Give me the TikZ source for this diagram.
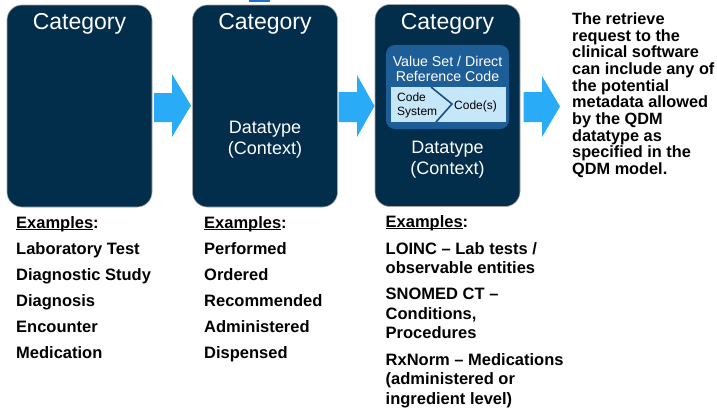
\documentclass[tikz,border=0pt]{standalone}
\usepackage{fontspec}
\setmainfont{Liberation Sans}
\usetikzlibrary{calc}
\definecolor{navy}{HTML}{022D4B}
\definecolor{arrowc}{HTML}{2AABF8}
\definecolor{innerc}{HTML}{1E5E98}
\definecolor{lightc}{HTML}{C6E6FA}
\definecolor{chevc}{HTML}{1B4F82}
\definecolor{markc}{HTML}{1F6FD2}
\newcommand\exline{\setbox0=\hbox{Examples}\rlap{\rule[-2.4pt]{\wd0}{1.3pt}}\box0:}
\tikzset{
  catbox/.style={rectangle, rounded corners=15pt, fill=navy, draw=black!35, line width=0.6pt,
    minimum width=145pt, minimum height=202pt, inner sep=0pt},
  cattext/.style={text=white, font=\fontsize{23}{26}\selectfont, inner sep=0pt, anchor=base},
  dttext/.style={text=white, font=\fontsize{18}{20}\selectfont, inner sep=0pt, anchor=base},
  vstext/.style={text=white, font=\fontsize{14.2}{16}\selectfont, inner sep=0pt, anchor=base},
  cstext/.style={text=black, font=\fontsize{12}{13}\selectfont, inner sep=0pt, anchor=base west},
  extext/.style={text=black, font=\bfseries\fontsize{16.5}{18}\selectfont, inner sep=0pt, anchor=base west},
  rtext/.style={text=black, font=\bfseries\fontsize{16.3}{17}\selectfont, inner sep=0pt, anchor=base west},
  arrowshape/.style={fill=arrowc},
}
\begin{document}
\begin{tikzpicture}[x=1pt,y=-1pt]
\useasboundingbox[fill=white] (0,0) rectangle (717,410);
% small mark at top
\fill[markc] (249,0) rectangle (270,1.6);
% boxes
\node[catbox] (b1) at (79.5,106) {};
\node[catbox] (b2) at (265,106) {};
\node[catbox] (b3) at (447.5,105.5) {};
% category titles
\node[cattext] (c1) at (79.5,29.5) {Category};
\node[cattext] (c2) at (265,29.5) {Category};
\node[cattext] (c3) at (447.5,29) {Category};
% datatype
\node[dttext] (d2) at (265,133.5) {Datatype};
\node[dttext] (x2) at (265,154.5) {(Context)};
\node[dttext] (d3) at (447.5,153.5) {Datatype};
\node[dttext] (x3) at (447.5,174) {(Context)};
% inner value set box
\fill[innerc, rounded corners=9pt] (386,45) rectangle (509,129);
\node[vstext] (vs1) at (447.5,66) {Value Set / Direct};
\node[vstext] (vs2) at (447.5,81) {Reference Code};
\fill[lightc] (390.5,87) rectangle (505.5,122);
\coordinate (chtop) at (431,87);
\coordinate (chtip) at (452,104);
\coordinate (chbot) at (436,122);
\draw[chevc, line width=1.6pt, line join=miter] (chtop) -- (chtip) -- (chbot);
\node[cstext] (cs1) at (397,101.5) {Code};
\node[cstext] (cs2) at (397,115) {System};
\node[cstext] (cds) at (454,109) {Code(s)};
% block arrows
\fill[arrowshape] (154,93) -- (172,93) -- (172,74) -- (191,105.5) -- (172,137) -- (172,122) -- (154,122) -- cycle;
\fill[arrowshape] (338.5,92) -- (357,92) -- (357,75) -- (374.5,106) -- (357,137) -- (357,122) -- (338.5,122) -- cycle;
\fill[arrowshape] (523.5,92) -- (542,92) -- (542,76) -- (560,106.5) -- (542,137) -- (542,122) -- (523.5,122) -- cycle;
% column 1
\node[extext] (e1) at (16,228) {\exline};
\foreach \t [count=\i] in {Laboratory Test, Diagnostic Study, Diagnosis, Encounter, Medication}
  \node[extext] (e1\i) at (16,{254+26*(\i-1)}) {\t};
% column 2
\node[extext] (e2) at (204,228) {\exline};
\foreach \t [count=\i] in {Performed, Ordered, Recommended, Administered, Dispensed}
  \node[extext] (e2\i) at (204,{254+26*(\i-1)}) {\t};
% column 3
\node[extext] (e3) at (385.5,227) {\exline};
\node[extext] (e31) at (385.5,254) {LOINC – Lab tests /};
\node[extext] (e32) at (385.5,273.5) {observable entities};
\node[extext] (e33) at (385.5,299.5) {SNOMED CT –};
\node[extext] (e34) at (385.5,319) {Conditions,};
\node[extext] (e35) at (385.5,338.5) {Procedures};
\node[extext] (e36) at (385.5,365) {RxNorm – Medications};
\node[extext] (e37) at (385.5,384.5) {(administered or};
\node[extext] (e38) at (385.5,404) {ingredient level)};
% right text
\foreach \t [count=\i] in {The retrieve, request to the, clinical software, can include any of, the potential, metadata allowed, by the QDM, datatype as, specified in the, QDM model.}
  \node[rtext] (r\i) at (572,{24.3+16.7*(\i-1)}) {\t};
\end{tikzpicture}
\end{document}
